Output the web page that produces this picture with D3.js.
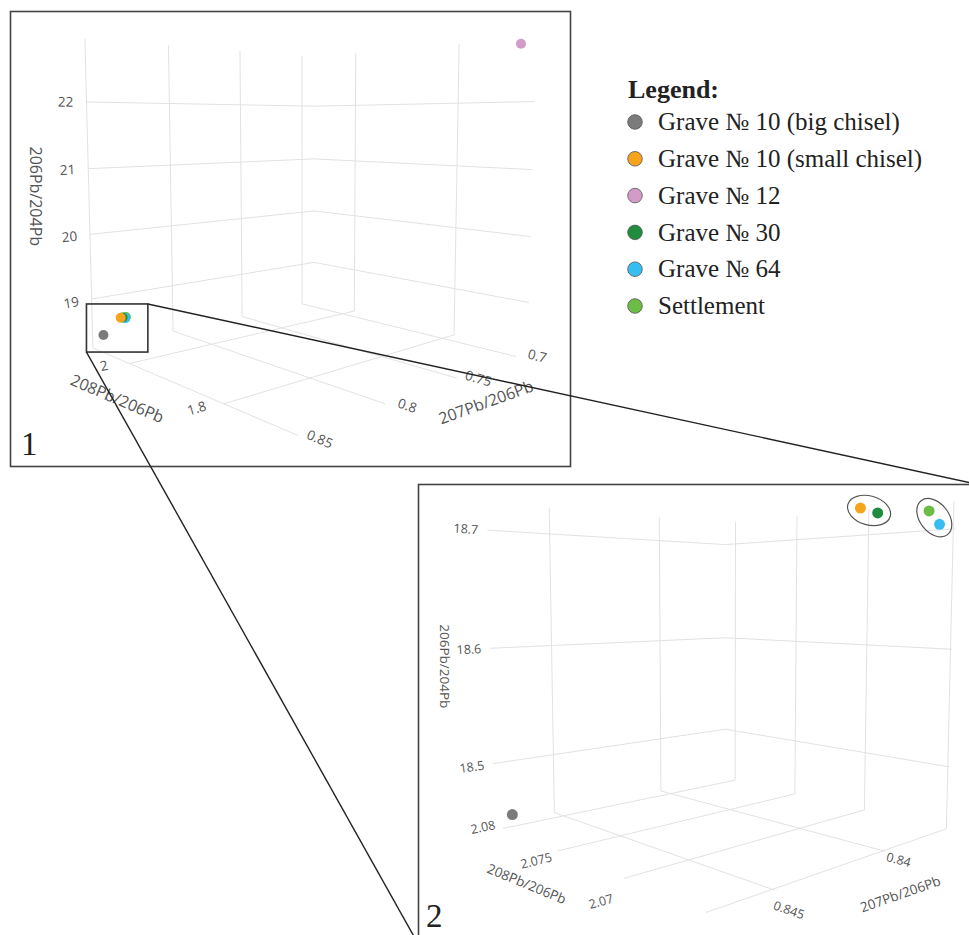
<!DOCTYPE html>
<html>
<head>
<meta charset="utf-8">
<script src="https://cdn.jsdelivr.net/npm/d3@7/dist/d3.min.js"></script>
<style>
  html, body { margin: 0; padding: 0; background: #fff; }
  svg { display: block; }
</style>
</head>
<body>
<svg id="fig" width="969" height="935"></svg>
<script>
// ---------- data: lead isotope ratios per sample group ----------
const groups = ["Grave № 10 (big chisel)", "Grave № 10 (small chisel)", "Grave № 12",
                "Grave № 30", "Grave № 64", "Settlement"];
const pb208_206 = [2.0801, 2.0671, 1.694, 2.0673, 2.0650, 2.0661];
const pb207_206 = [0.8470, 0.8395, 0.6935, 0.8384, 0.83723, 0.83668];
const pb206_204 = [18.456, 18.7143, 22.84, 18.7126, 18.7025, 18.7157];

// axis ranges and ticks of the overview scene (1)
const p1Range208 = [1.679, 2.096];
const p1Range207 = [0.6893, 0.8502];
const p1Range206 = [18.233, 22.931];
const p1Ticks208 = [1.8, 2.0];
const p1Ticks207 = [0.7, 0.75, 0.8, 0.85];
const p1Ticks206 = [19, 20, 21, 22];

// axis ranges and ticks of the close-up scene (2)
const p2Range208 = [2.0649, 2.0809];
const p2Range207 = [0.8364, 0.8474];
const p2Range206 = [18.446, 18.723];
const p2Ticks208 = [2.065, 2.07, 2.075, 2.08];
const p2Ticks207 = [0.84, 0.845];
const p2Ticks206 = [18.5, 18.6, 18.7];

// pairs circled in the close-up
const circledPairs = [["Grave № 10 (small chisel)", "Grave № 30"], ["Settlement", "Grave № 64"]];

// ---------- styles ----------
const colors = {
  "Grave № 10 (big chisel)": "#7b7b7b",
  "Grave № 10 (small chisel)": "#f7a31c",
  "Grave № 12": "#d39bc9",
  "Grave № 30": "#1f8c3e",
  "Grave № 64": "#37bef0",
  "Settlement": "#6cbd46"
};
const axisFont = "'Open Sans', 'DejaVu Sans', sans-serif";
const serifFont = "'Liberation Serif', 'Times New Roman', serif";
const gridColor = "#e2e2e2";
const textColor = "#555";
const pageHeight = 935;

const svg = d3.select("#fig");

// ---------- tiny 3D helpers ----------
const vsub = (a, b) => [a[0] - b[0], a[1] - b[1], a[2] - b[2]];
const vdot = (a, b) => a[0] * b[0] + a[1] * b[1] + a[2] * b[2];
const vcross = (a, b) => [a[1] * b[2] - a[2] * b[1], a[2] * b[0] - a[0] * b[2], a[0] * b[1] - a[1] * b[0]];
const vnorm = a => { const l = Math.hypot(a[0], a[1], a[2]); return [a[0] / l, a[1] / l, a[2] / l]; };

// perspective camera looking at the centre of the cube [-1,1]^3
function makeScene(cfg) {
  const sx = d3.scaleLinear().domain(cfg.r208).range([-1, 1]);
  const sy = d3.scaleLinear().domain(cfg.r207).range([-1, 1]);
  const sz = d3.scaleLinear().domain(cfg.r206).range([-1, 1]);
  const az = cfg.azimuth * Math.PI / 180;
  const eye = [cfg.dist * Math.cos(az), cfg.dist * Math.sin(az), cfg.eyeZ];
  const f = vnorm(vsub([0, 0, 0], eye));
  const r = vnorm(vcross(f, [0, 0, 1]));
  const u = vcross(r, f);
  const pn = p => {
    const d = vsub(p, eye);
    const depth = vdot(d, f);
    return [cfg.cx + cfg.focal * vdot(d, r) / depth, cfg.cy - cfg.focal * vdot(d, u) / depth, depth];
  };
  const pd = (a, b, c) => pn([sx(a), sy(b), sz(c)]);
  return { sx, sy, sz, pn, pd };
}

const angleOf = (a, b) => {
  let t = Math.atan2(b[1] - a[1], b[0] - a[0]) * 180 / Math.PI;
  if (t > 90) t -= 180;
  if (t <= -90) t += 180;
  return t;
};
const within = rng => v => v >= Math.min(...rng) && v <= Math.max(...rng);
const shift = (p, dy) => [p[0], p[1] + dy];

function drawScene(g, cfg, ticks, members) {
  const sc = makeScene(cfg);
  const grid = g.append("g").attr("stroke", gridColor).attr("stroke-width", 1).attr("fill", "none");
  const seg = (a, b) => grid.append("line")
    .attr("x1", a[0]).attr("y1", a[1]).attr("x2", b[0]).attr("y2", b[1]);

  const t206 = ticks.t206.filter(within(cfg.r206));
  const t208 = ticks.t208.filter(within(cfg.r208));
  const t207 = ticks.t207.filter(within(cfg.r207));

  // back walls: x = max (left wall), y = min (right wall); floor: z = min
  t206.forEach(v => { const z = sc.sz(v); seg(sc.pn([1, 1, z]), sc.pn([1, -1, z])); seg(sc.pn([1, -1, z]), sc.pn([-1, -1, z])); });
  t208.forEach(v => { const x = sc.sx(v); seg(sc.pn([x, 1, -1]), sc.pn([x, -1, -1])); seg(sc.pn([x, -1, -1]), sc.pn([x, -1, 1])); });
  t207.forEach(v => { const y = sc.sy(v); seg(sc.pn([1, y, -1]), sc.pn([-1, y, -1])); seg(sc.pn([1, y, -1]), sc.pn([1, y, 1])); });

  const lab = g.append("g").attr("fill", textColor).attr("font-family", axisFont);
  // labels whose centre falls below the page are left out
  const put = (p, ang, txt, size) => {
    if (p[1] > pageHeight - 5) return;
    lab.append("text")
      .attr("transform", `translate(${p[0]},${p[1]}) rotate(${ang})`)
      .attr("text-anchor", "middle").attr("dominant-baseline", "central")
      .attr("font-size", size).text(txt);
  };

  // tick labels (hung slightly below the floor edge, then nudged on screen)
  t206.forEach(v => {
    const z = sc.sz(v);
    put(sc.pn([1, 1 + cfg.offZ, z]), angleOf(sc.pn([1, 1, z]), sc.pn([1, -1, z])), String(v), cfg.tickFont);
  });
  t208.forEach(v => {
    const x = sc.sx(v);
    put(shift(sc.pn([x, 1 + cfg.off208, -1 - cfg.drop208]), cfg.dy208),
        angleOf(sc.pn([x, 1, -1]), sc.pn([x, -1, -1])), String(v), cfg.tickFont);
  });
  t207.forEach(v => {
    const y = sc.sy(v);
    put(shift(sc.pn([-1 - cfg.off207, y, -1 - cfg.drop207]), cfg.dy207),
        angleOf(sc.pn([1, y, -1]), sc.pn([-1, y, -1])), String(v), cfg.tickFont);
  });

  // axis titles
  const zEdge = sc.pn([1, 1, 0]);
  put([zEdge[0] + cfg.titleZdx, zEdge[1]], 90, "206Pb/204Pb", cfg.titleFont);
  put(shift(sc.pn([cfg.title208[0], 1 + cfg.title208[1], -1]), cfg.title208[2]),
      angleOf(sc.pn([1, 1, -1]), sc.pn([-1, 1, -1])), "208Pb/206Pb", cfg.titleFont);
  put(shift(sc.pn([-1 - cfg.title207[1], cfg.title207[0], -1]), cfg.title207[2]),
      angleOf(sc.pn([-1, 1, -1]), sc.pn([-1, -1, -1])), "207Pb/206Pb", cfg.titleFont);

  // markers, far ones first
  const pts = members.map(i => {
    const p = sc.pd(pb208_206[i], pb207_206[i], pb206_204[i]);
    return { name: groups[i], x: p[0], y: p[1], depth: p[2] };
  }).sort((a, b) => b.depth - a.depth);
  g.append("g").selectAll("circle").data(pts).join("circle")
    .attr("cx", d => d.x).attr("cy", d => d.y).attr("r", cfg.markerR)
    .attr("fill", d => colors[d.name]);
  return { sc, pts };
}

function frame(id, fr) {
  svg.append("clipPath").attr("id", id).append("rect")
    .attr("x", fr.x).attr("y", fr.y).attr("width", fr.w).attr("height", fr.h);
  return svg.append("g").attr("clip-path", `url(#${id})`);
}

// ---------- scene 1: all samples ----------
const cfg1 = {
  frame: { x: 10.5, y: 11.5, w: 560, h: 455 },
  cx: 308, cy: 197, focal: 795, dist: 5.05, azimuth: 137, eyeZ: 0.476,
  r208: p1Range208, r207: p1Range207, r206: p1Range206,
  offZ: 0.14,
  off208: 0.17, drop208: 0, dy208: -4,
  off207: 0.15, drop207: 0, dy207: -6,
  titleZdx: -53,
  title208: [0.15, 0.3, 8], title207: [-0.1, 0.3, 5],
  markerR: 5, tickFont: 13.5, titleFont: 16
};
const g1 = frame("clip1", cfg1.frame);
const s1 = drawScene(g1, cfg1, { t206: p1Ticks206, t208: p1Ticks208, t207: p1Ticks207 }, d3.range(groups.length));

// ---------- scene 2: close-up without Grave № 12 ----------
const cfg2 = {
  frame: { x: 418.5, y: 484.5, w: 560, h: 460 },
  cx: 719, cy: 667, focal: 827, dist: 5.05, azimuth: 137, eyeZ: 0.42,
  r208: p2Range208, r207: p2Range207, r206: p2Range206,
  offZ: 0.14,
  off208: 0.15, drop208: 0.65, dy208: -110,
  off207: 0.1, drop207: 0.39, dy207: -64,
  titleZdx: -46,
  title208: [0.08, 0.3, 13], title207: [-0.06, 0.3, 18],
  markerR: 5.5, tickFont: 12.5, titleFont: 13.5
};
const closeMembers = d3.range(groups.length).filter(i => within(p2Range206)(pb206_204[i]) && within(p2Range208)(pb208_206[i]));
const g2 = frame("clip2", cfg2.frame);
const s2 = drawScene(g2, cfg2, { t206: p2Ticks206, t208: p2Ticks208, t207: p2Ticks207 }, closeMembers);

// ellipses around paired samples
circledPairs.forEach(pair => {
  const a = s2.pts.find(p => p.name === pair[0]);
  const b = s2.pts.find(p => p.name === pair[1]);
  const mx = (a.x + b.x) / 2, my = (a.y + b.y) / 2;
  const half = Math.hypot(b.x - a.x, b.y - a.y) / 2;
  const ang = Math.atan2(b.y - a.y, b.x - a.x) * 180 / Math.PI;
  g2.append("ellipse")
    .attr("transform", `translate(${mx},${my}) rotate(${ang})`)
    .attr("rx", half + 13).attr("ry", 14.5)
    .attr("fill", "none").attr("stroke", "#555").attr("stroke-width", 1.2);
});

// panel frames and labels
[cfg1, cfg2].forEach(c => {
  svg.append("rect").attr("x", c.frame.x).attr("y", c.frame.y)
    .attr("width", c.frame.w).attr("height", c.frame.h)
    .attr("fill", "none").attr("stroke", "#444").attr("stroke-width", 1.6);
});
svg.append("text").attr("x", 21).attr("y", 455).attr("font-family", serifFont)
  .attr("font-size", 33).attr("fill", "#222").text("1");
svg.append("text").attr("x", 426).attr("y", 927).attr("font-family", serifFont)
  .attr("font-size", 33).attr("fill", "#222").text("2");

// zoom box in scene 1 around the close-up samples, with connectors to scene 2
const zp = s1.pts.filter(p => closeMembers.some(i => groups[i] === p.name));
const zx0 = d3.min(zp, d => d.x) - 17, zx1 = d3.max(zp, d => d.x) + 22;
const zy0 = d3.min(zp, d => d.y) - 13, zy1 = d3.max(zp, d => d.y) + 17;
svg.append("rect").attr("x", zx0).attr("y", zy0).attr("width", zx1 - zx0).attr("height", zy1 - zy0)
  .attr("fill", "none").attr("stroke", "#333").attr("stroke-width", 1.6);
const f2 = cfg2.frame;
svg.append("line").attr("x1", zx1).attr("y1", zy0).attr("x2", f2.x + f2.w).attr("y2", f2.y)
  .attr("stroke", "#222").attr("stroke-width", 1.4);
svg.append("line").attr("x1", zx0).attr("y1", zy1).attr("x2", f2.x).attr("y2", f2.y + f2.h)
  .attr("stroke", "#222").attr("stroke-width", 1.4);

// ---------- legend ----------
const leg = svg.append("g").attr("transform", "translate(628,0)").attr("font-family", serifFont);
leg.append("text").attr("x", 0).attr("y", 98).attr("font-size", 26).attr("font-weight", "bold")
  .attr("fill", "#222").text("Legend:");
const rows = leg.selectAll("g.row").data(groups).join("g")
  .attr("transform", (d, i) => `translate(0,${122 + i * 36.8})`);
rows.append("circle").attr("cx", 7).attr("cy", 0).attr("r", 7.3)
  .attr("fill", d => colors[d]).attr("stroke", "#555").attr("stroke-width", 0.8);
rows.append("text").attr("x", 30).attr("y", 0).attr("dy", "0.33em")
  .attr("font-size", 25).attr("fill", "#222").text(d => d);
</script>
</body>
</html>
